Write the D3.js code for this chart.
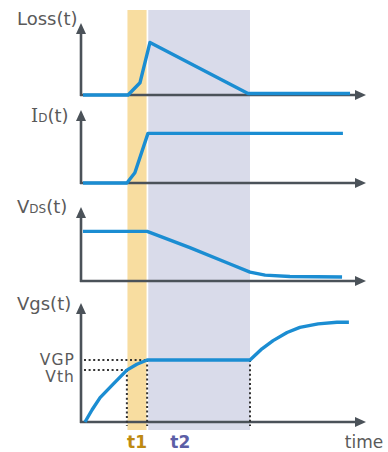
<!DOCTYPE html>
<html><head><meta charset="utf-8">
<script src="https://cdn.jsdelivr.net/npm/d3@7"></script>
<style>
html,body{margin:0;padding:0;background:#fff;}
svg{display:block;font-family:"DejaVu Sans",Verdana,sans-serif;}
</style></head>
<body>
<div id="chart"></div>
<script>
// ---- data (time in arbitrary units 0..10, values normalised 0..1) ----
const phases = ["t1", "t2"];
const phaseStart = [1.63, 2.36];
const phaseEnd = [2.30, 5.93];

const lossT = [0.07, 1.65, 2.07, 2.42, 5.86, 9.44];
const lossV = [0.0, 0.0, 0.17, 0.73, 0.02, 0.02];

const idT = [0.07, 1.61, 1.89, 2.35, 9.19];
const idV = [0.0, 0.0, 0.14, 0.68, 0.68];

const vdsT = [0.07, 2.32, 3.82, 5.23, 5.93, 6.46, 7.33, 9.16];
const vdsV = [0.67, 0.67, 0.45, 0.23, 0.12, 0.08, 0.06, 0.055];

const vgsT = [0.14, 0.39, 0.67, 1.12, 1.61, 1.96, 2.32, 5.93, 6.35, 6.74, 7.23, 7.68, 8.32, 8.98, 9.40];
const vgsV = [0.0, 0.103, 0.205, 0.316, 0.436, 0.485, 0.521, 0.521, 0.615, 0.684, 0.752, 0.795, 0.825, 0.838, 0.838];

const levelNames = ["VGP", "Vth"];
const levelValues = [0.521, 0.436];
const levelTimes = [2.32, 1.61];
const plateauEnd = 5.93;

const panelLabels = [["Loss(t)"], ["I", "D", "(t)"], ["V", "DS", "(t)"], ["Vgs(t)"]];
const axisLabel = "time";

// ---- layout ----
const W = 388, H = 452;
const svg = d3.select("#chart").append("svg").attr("width", W).attr("height", H);

const x = d3.scaleLinear().domain([0, 10]).range([81, 366]);
const panels = [
  { base: 95, top: 23, t: lossT, v: lossV },
  { base: 183, top: 110, t: idT, v: idV },
  { base: 281, top: 207, t: vdsT, v: vdsV },
  { base: 422, top: 303, t: vgsT, v: vgsV }
];
panels.forEach(p => { p.y = d3.scaleLinear().domain([0, 1]).range([p.base, p.top]); });

const axisColor = "#4b5259";
const blue = "#1b8dd2";
const bandTop = 10, bandBottom = 430;
const bandColors = ["#f8dda0", "#d9dbea"];
const phaseColors = ["#be8a12", "#5b5ea6"];

// bands
svg.selectAll("rect.band").data(phases).enter().append("rect")
  .attr("class", "band")
  .attr("x", (d, i) => x(phaseStart[i]))
  .attr("width", (d, i) => x(phaseEnd[i]) - x(phaseStart[i]))
  .attr("y", bandTop).attr("height", bandBottom - bandTop)
  .attr("fill", (d, i) => bandColors[i]);

// axes
panels.forEach(p => {
  const g = svg.append("g");
  g.append("line").attr("x1", x(0)).attr("x2", x(0)).attr("y1", p.base + 1).attr("y2", p.top + 8)
    .attr("stroke", axisColor).attr("stroke-width", 2.6);
  g.append("line").attr("x1", x(0) - 1).attr("x2", x(10) - 8).attr("y1", p.base).attr("y2", p.base)
    .attr("stroke", axisColor).attr("stroke-width", 2.6);
  g.append("path")
    .attr("d", `M${x(0)},${p.top} L${x(0) - 5},${p.top + 11} L${x(0) + 5},${p.top + 11} Z`)
    .attr("fill", axisColor);
  g.append("path")
    .attr("d", `M${x(10)},${p.base} L${x(10) - 11},${p.base - 5} L${x(10) - 11},${p.base + 5} Z`)
    .attr("fill", axisColor);
});

// dotted guides on Vgs panel
const vp = panels[3];
const dot = { stroke: "#333", "stroke-width": 2, "stroke-dasharray": "2,2.6" };
function dotted(x1, y1, x2, y2) {
  const l = svg.append("line").attr("x1", x1).attr("y1", y1).attr("x2", x2).attr("y2", y2);
  Object.entries(dot).forEach(([k, v]) => l.attr(k, v));
}
levelValues.forEach((v, i) => {
  dotted(x(0) + 3, vp.y(v), x(levelTimes[i]), vp.y(v));
  dotted(x(levelTimes[i]), vp.y(v), x(levelTimes[i]), vp.base + 4);
});
dotted(x(plateauEnd), vp.y(levelValues[0]), x(plateauEnd), vp.base + 4);

// curves
panels.forEach(p => {
  const pts = p.t.map((t, i) => [t, p.v[i]]);
  svg.append("path")
    .attr("d", d3.line().x(d => x(d[0])).y(d => p.y(d[1]))(pts))
    .attr("fill", "none").attr("stroke", blue).attr("stroke-width", 3.4)
    .attr("stroke-linejoin", "round").attr("stroke-linecap", "butt");
});

// panel labels
const labelColor = "#5a5a5a";
const labelPos = [[17, 25], [31, 122], [17, 213], [17, 310]];
panelLabels.forEach((parts, i) => {
  const t = svg.append("text").attr("x", labelPos[i][0]).attr("y", labelPos[i][1])
    .attr("fill", labelColor).attr("font-size", 18);
  if (parts.length === 1) {
    t.text(parts[0]);
  } else {
    t.append("tspan").text(parts[0]).attr("font-family", parts[0] === "I" ? "DejaVu Serif" : null);
    t.append("tspan").text(parts[1]).attr("font-size", 12);
    t.append("tspan").text(parts[2]);
  }
});

// level labels
const levelLabelY = [364.5, 382];
levelNames.forEach((n, i) => {
  svg.append("text").attr("x", 75).attr("y", levelLabelY[i]).attr("text-anchor", "end")
    .attr("fill", labelColor).attr("font-size", 15.5).attr("letter-spacing", 1.1).text(n);
});

// phase labels
const phaseLabelX = [x((phaseStart[0] + phaseEnd[0]) / 2), x(phaseStart[1]) + 32];
phases.forEach((n, i) => {
  svg.append("text").attr("x", phaseLabelX[i]).attr("y", 448).attr("text-anchor", "middle")
    .attr("fill", phaseColors[i]).attr("font-size", 17).attr("font-weight", "bold").text(n);
});

// time label
svg.append("text").attr("x", 364).attr("y", 448).attr("text-anchor", "middle")
  .attr("fill", labelColor).attr("font-size", 17).text(axisLabel);
</script>
</body></html>
